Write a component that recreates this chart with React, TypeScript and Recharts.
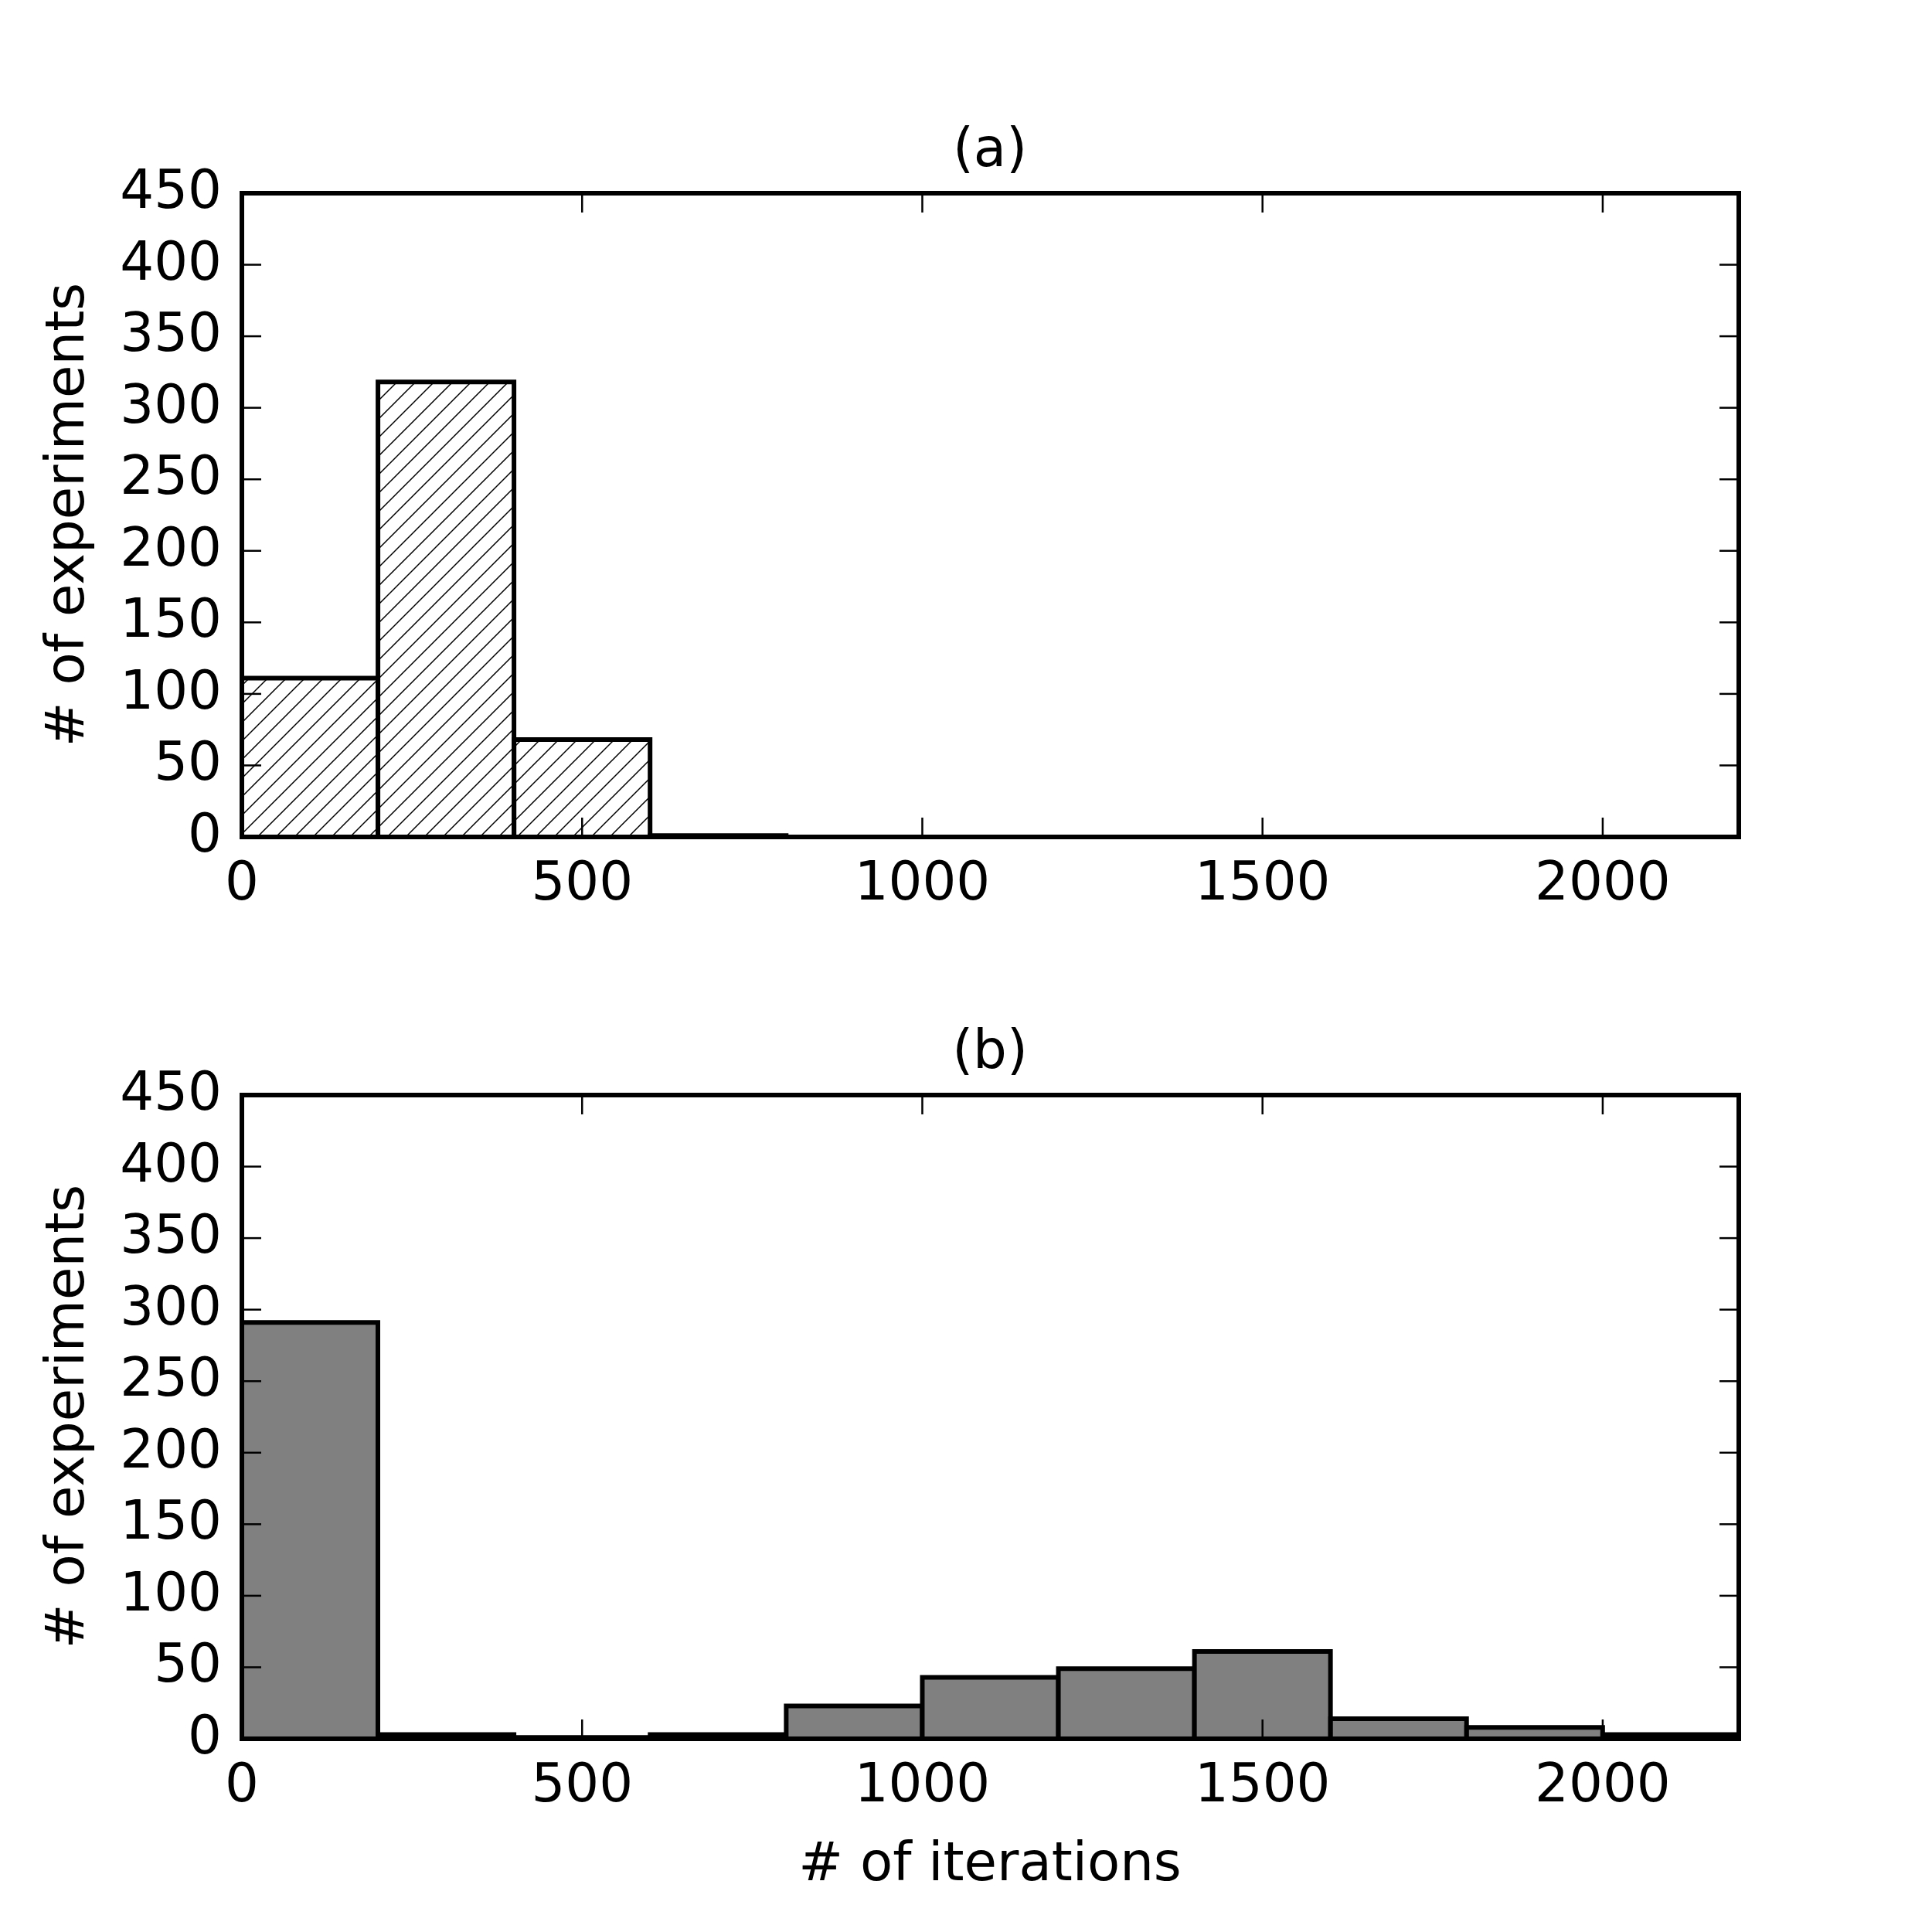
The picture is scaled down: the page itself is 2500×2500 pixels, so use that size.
import React from 'react';
import { BarChart, Bar, XAxis, YAxis } from 'recharts';

// histogram bins of 200 iterations each
const binStarts = [0, 200, 400, 600, 800, 1000, 1200, 1400, 1600, 1800, 2000];
const countsA = [111, 318, 68, 1, 0, 0, 0, 0, 0, 0, 0];
const countsB = [291, 3, 1, 3, 23, 43, 49, 61, 14, 8, 3];
const xTicks = [0, 500, 1000, 1500, 2000];
const yTicks = [0, 50, 100, 150, 200, 250, 300, 350, 400, 450];

const FONT = "'DejaVu Sans', sans-serif";
const FS = 69;
const TICK_LEN = 25;
const TICK_W = 2.5;

const W = 2500;
const H = 1333;
// plot area: x 313..2250, y 250..1083 inside each chart
const margin = { top: 240, right: 240, bottom: 150, left: 213 };
const frame = { stroke: '#000', strokeWidth: 6, strokeLinecap: 'square' as const };

const BottomTick = ({ x, y, payload }: any) => (
  <g>
    <line x1={x} y1={y} x2={x} y2={y - TICK_LEN} stroke="#000" strokeWidth={TICK_W} />
    <text x={x} y={y + 81} textAnchor="middle" fontFamily={FONT} fontSize={FS} fill="#000">
      {payload.value}
    </text>
  </g>
);

const TopTick = ({ x, y }: any) => (
  <line x1={x} y1={y} x2={x} y2={y + TICK_LEN} stroke="#000" strokeWidth={TICK_W} />
);

const LeftTick = ({ x, y, payload }: any) => (
  <g>
    <line x1={x} y1={y} x2={x + TICK_LEN} y2={y} stroke="#000" strokeWidth={TICK_W} />
    <text x={x - 26} y={y + 19} textAnchor="end" fontFamily={FONT} fontSize={FS} fill="#000">
      {payload.value}
    </text>
  </g>
);

const RightTick = ({ x, y }: any) => (
  <line x1={x} y1={y} x2={x - TICK_LEN} y2={y} stroke="#000" strokeWidth={TICK_W} />
);

const Panel = ({ counts, fill, top }: { counts: number[]; fill: string; top: number }) => {
  const data = binStarts.map((b, i) => ({ bin: b, count: counts[i] }));
  return (
    <div style={{ position: 'absolute', left: 0, top }}>
      <BarChart width={W} height={H} data={data} margin={margin} barCategoryGap={0} barGap={0}>
        <XAxis xAxisId="cat" dataKey="bin" hide />
        <XAxis
          xAxisId="bottom"
          dataKey="bin"
          type="number"
          domain={[0, 2200]}
          allowDataOverflow
          ticks={xTicks}
          interval={0}
          orientation="bottom"
          height={100}
          tickSize={0}
          tickMargin={0}
          tickLine={false}
          axisLine={frame}
          tick={<BottomTick />}
        />
        <XAxis
          xAxisId="top"
          dataKey="bin"
          type="number"
          domain={[0, 2200]}
          allowDataOverflow
          ticks={xTicks}
          interval={0}
          orientation="top"
          height={10}
          tickSize={0}
          tickMargin={0}
          tickLine={false}
          axisLine={frame}
          tick={<TopTick />}
        />
        <YAxis
          yAxisId="left"
          type="number"
          domain={[0, 450]}
          allowDataOverflow
          ticks={yTicks}
          interval={0}
          orientation="left"
          width={100}
          tickSize={0}
          tickMargin={0}
          tickLine={false}
          axisLine={frame}
          tick={<LeftTick />}
        />
        <YAxis
          yAxisId="right"
          type="number"
          domain={[0, 450]}
          allowDataOverflow
          ticks={yTicks}
          interval={0}
          orientation="right"
          width={10}
          tickSize={0}
          tickMargin={0}
          tickLine={false}
          axisLine={frame}
          tick={<RightTick />}
        />
        <Bar
          xAxisId="cat"
          yAxisId="left"
          dataKey="count"
          fill={fill}
          stroke="#000"
          strokeWidth={6}
          isAnimationActive={false}
        />
      </BarChart>
    </div>
  );
};

export default function App() {
  const textProps = { fontFamily: FONT, fontSize: FS, fill: '#000', textAnchor: 'middle' as const };
  return (
    <div style={{ position: 'absolute', left: 0, top: 0, width: W, height: 2500, background: '#fff' }}>
      <svg width={0} height={0} style={{ position: 'absolute' }}>
        <defs>
          <pattern id="hatchA" patternUnits="userSpaceOnUse" width={24} height={24}>
            <rect width={24} height={24} fill="#fff" />
            <path d="M-6,6 L6,-6 M0,24 L24,0 M18,30 L30,18" stroke="#000" strokeWidth={1.5} />
          </pattern>
        </defs>
      </svg>
      <Panel counts={countsA} fill="url(#hatchA)" top={0} />
      <Panel counts={countsB} fill="#808080" top={1167} />
      <svg width={W} height={2500} style={{ position: 'absolute', left: 0, top: 0, pointerEvents: 'none' }}>
        <text x={1281} y={215} {...textProps}>(a)</text>
        <text x={1281} y={1382} {...textProps}>(b)</text>
        <text transform="translate(108, 666) rotate(-90)" {...textProps}># of experiments</text>
        <text transform="translate(108, 1833) rotate(-90)" {...textProps}># of experiments</text>
        <text x={1281} y={2433} {...textProps}># of iterations</text>
      </svg>
    </div>
  );
}
